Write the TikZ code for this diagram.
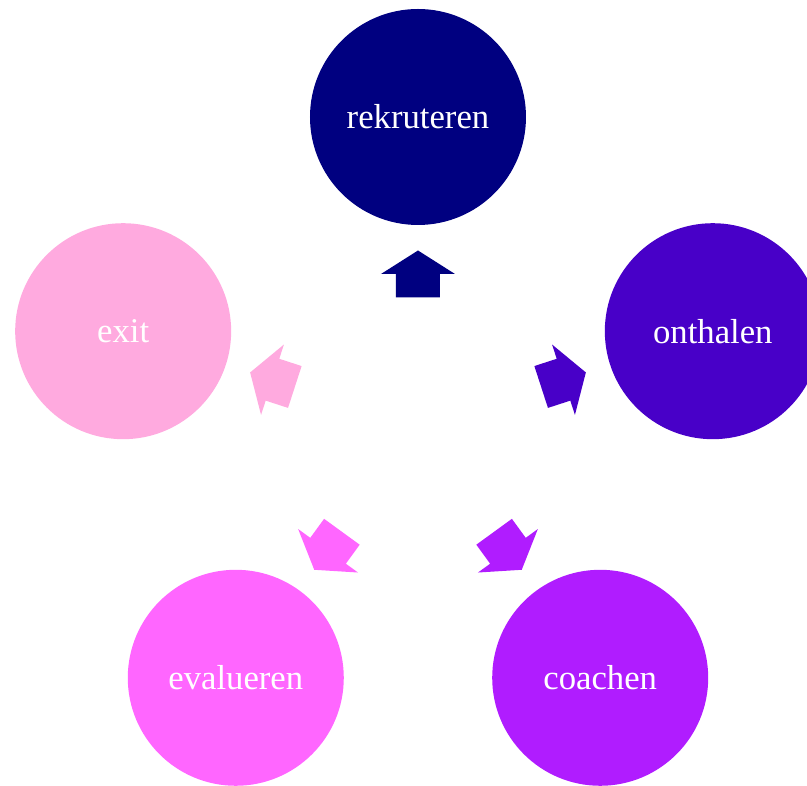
\documentclass[tikz,border=0pt]{standalone}
\usepackage{fontspec}
\setmainfont{Liberation Serif}
\definecolor{rekrutkleur}{HTML}{000080}
\definecolor{onthaalkleur}{HTML}{4800C8}
\definecolor{coachkleur}{HTML}{B01CFF}
\definecolor{evalkleur}{HTML}{FF66FF}
\definecolor{exitkleur}{HTML}{FFAADF}

\begin{document}
\begin{tikzpicture}[x=1pt,y=1pt,
    stap/.style={circle,minimum size=216pt,inner sep=0pt,text=white,
      font=\fontsize{34.7}{40}\selectfont}]
    \useasboundingbox (-418,-359) rectangle (389,427);
    % de vijf stappen
    \node[stap,fill=rekrutkleur]  (rekruteren) at (90:310)   {rekruteren};
    \node[stap,fill=onthaalkleur] (onthalen)   at (18:310)   {onthalen};
    \node[stap,fill=coachkleur]   (coachen)    at (-54:310)  {coachen};
    \node[stap,fill=evalkleur]    (evalueren)  at (-126:310) {evalueren};
    \node[stap,fill=exitkleur]    (exit)       at (162:310)  {exit};

    % pijlen naar buiten
    \foreach \hoek/\kleur in {90/rekrutkleur,18/onthaalkleur,-54/coachkleur,-126/evalkleur,162/exitkleur}
      \fill[\kleur,rotate=\hoek-90,shift={(0,153)}]
        (0,23.5) -- (37,0) -- (22,0) -- (22,-23.5) -- (-22,-23.5) -- (-22,0) -- (-37,0) -- cycle;
\end{tikzpicture}
\end{document}
